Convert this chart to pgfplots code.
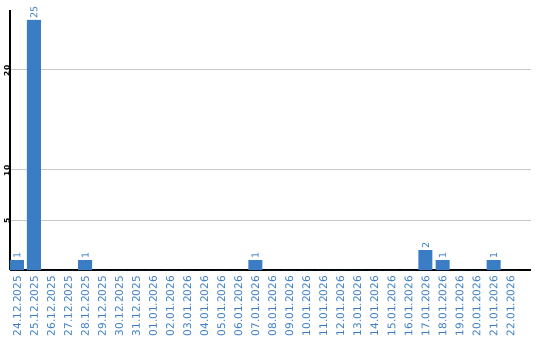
\documentclass[border=0pt]{standalone}
\usepackage{pgfplots}
\usepackage{pgfplotstable}
\pgfplotsset{compat=1.18}
\usepackage{fontspec}
\setmainfont{DejaVu Sans}
\definecolor{barblue}{HTML}{3B7DC4}
\definecolor{gridgray}{HTML}{C8C8C8}
\pgfplotstableread{
x y lab
0 1 1
1 25 25
2 0 {}
3 0 {}
4 1 1
5 0 {}
6 0 {}
7 0 {}
8 0 {}
9 0 {}
10 0 {}
11 0 {}
12 0 {}
13 0 {}
14 1 1
15 0 {}
16 0 {}
17 0 {}
18 0 {}
19 0 {}
20 0 {}
21 0 {}
22 0 {}
23 0 {}
24 2 2
25 1 1
26 0 {}
27 0 {}
28 1 1
29 0 {}
}\datatable
\begin{document}
\begin{tikzpicture}[x=1pt,y=1pt]
\path[use as bounding box] (0,0) rectangle (540,340);
\begin{axis}[
  at={(10pt,70pt)}, anchor=south west,
  scale only axis, width=521pt, height=260pt,
  xmin=-0.41, xmax=30.2, ymin=0, ymax=26,
  clip=false,
  axis lines*=left,
  axis line style={black, line width=1.5pt},
  ytick={5,10,20},
  ymajorgrids, grid style={gridgray, line width=1pt},
  xtick={0,...,29},
  xticklabels={24.12.2025,25.12.2025,26.12.2025,27.12.2025,28.12.2025,29.12.2025,30.12.2025,31.12.2025,01.01.2026,02.01.2026,03.01.2026,04.01.2026,05.01.2026,06.01.2026,07.01.2026,08.01.2026,09.01.2026,10.01.2026,11.01.2026,12.01.2026,13.01.2026,14.01.2026,15.01.2026,16.01.2026,17.01.2026,18.01.2026,19.01.2026,20.01.2026,21.01.2026,22.01.2026},
  xticklabel shift=6pt,
  x tick label style={rotate=90, anchor=east, font=\fontsize{10.5}{10.5}\selectfont, text=barblue, inner sep=0pt},
  y tick label style={rotate=90, anchor=south, font=\bfseries\fontsize{7.5}{7.5}\selectfont, inner sep=0pt, xshift=-1pt},
  major tick length=0pt,
  xtick style={draw=none}, ytick style={draw=none},
  /pgf/number format/assume math mode=true,
]
\addplot[ybar, bar width=14pt, bar shift=0pt, fill=barblue, draw=none,
  point meta=explicit symbolic,
  nodes near coords,
  every node near coord/.append style={rotate=90, anchor=west, font=\fontsize{9.5}{9.5}\selectfont, text=barblue, inner sep=1.5pt}]
  table[x=x, y=y, meta=lab] {\datatable};
\end{axis}
\end{tikzpicture}
\end{document}
